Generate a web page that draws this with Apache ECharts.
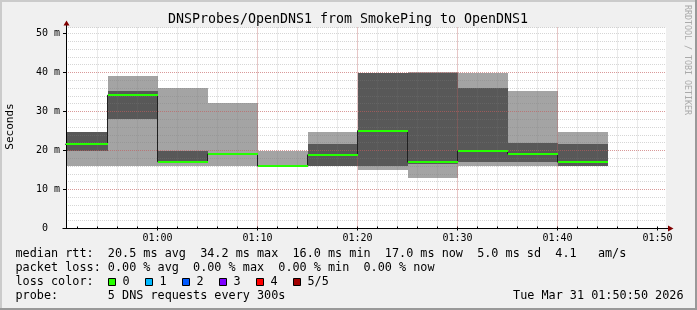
<!DOCTYPE html>
<html><head><meta charset="utf-8">
<script src="https://cdn.jsdelivr.net/npm/echarts@6/dist/echarts.min.js"></script>
<style>html,body{margin:0;padding:0;background:#f0f0f0;}#c{width:697px;height:310px;}</style>
</head><body><div id="c"></div>
<script>
// ---- data ----
const intervalEnds = ['00:55','01:00','01:05','01:10','01:15','01:20','01:25','01:30','01:35','01:40','01:45'];
const stepSeconds = 300;
const pingMin    = [16.1, 16.0, 16.1, 16.1, 15.9, 16.0, 15.1, 13.0, 16.1, 16.1, 16.0];
const ping2      = [19.8, 28.1, 16.9, 18.9, 16.0, 16.1, 16.1, 16.6, 17.1, 17.1, 16.1];
const pingMedian = [21.6, 34.2, 17.1, 19.1, 16.0, 18.9, 25.1, 17.0, 19.9, 19.1, 17.0];
const ping4      = [24.7, 35.2, 19.8, 19.3, 16.1, 21.6, 40.0, 40.0, 36.1, 21.9, 21.6];
const pingMax    = [24.8, 39.1, 36.1, 32.2, 19.8, 24.7, 40.0, 40.1, 40.0, 35.2, 24.7];
const xTickLabels = ['01:00','01:10','01:20','01:30','01:40','01:50'];
const yTickValues = [0, 10, 20, 30, 40, 50];
const axisStart = '00:50:51';
const axisEnd   = '01:50:51';
const yMax = 51.54;
const lossLabels = ['0','1','2','3','4','5/5'];
const lossColors = ['#26ff00','#00b8ff','#0059ff','#7e00ff','#ff0000','#a10000'];
const titleText = 'DNSProbes/OpenDNS1 from SmokePing to OpenDNS1';
const legendRows = [
  'median rtt:  20.5 ms avg  34.2 ms max  16.0 ms min  17.0 ms now  5.0 ms sd  4.1   am/s',
  'packet loss: 0.00 % avg  0.00 % max  0.00 % min  0.00 % now',
  'loss color:',
  'probe:       5 DNS requests every 300s'
];
const dateText = 'Tue Mar 31 01:50:50 2026';

// ---- helpers ----
const mono = 'DejaVu Sans Mono';
const toSec = s => { const p = s.split(':').map(Number); return p[0]*3600 + p[1]*60 + (p[2]||0); };
const fmt = v => { const h = Math.floor(v/3600), m = Math.round((v%3600)/60); return String(h).padStart(2,'0')+':'+String(m).padStart(2,'0'); };
const xMin = toSec(axisStart), xMax = toSec(axisEnd);
const majorX = xTickLabels.map(toSec);
const minorX = []; for (let t = Math.ceil(xMin/120)*120; t < xMax; t += 120) minorX.push(t);

const smokeData = intervalEnds.map((e,i)=>[toSec(e)-stepSeconds, toSec(e), pingMin[i], ping2[i], ping4[i], pingMax[i]]);
const medianSteps = intervalEnds.map((e,i)=>[toSec(e)-stepSeconds, pingMedian[i]]);
medianSteps.push([toSec(intervalEnds[intervalEnds.length-1]), pingMedian[pingMedian.length-1]]);
const medianSegs = intervalEnds.map((e,i)=>[toSec(e)-stepSeconds, toSec(e), pingMedian[i]]);

const gridRed = 'rgba(222,80,80,0.45)';
const gridGrey = 'rgba(128,128,128,0.32)';

function bandRect(a, b, cs){
  let x1 = Math.max(Math.round(a[0]), Math.round(cs.x));
  let x2 = Math.min(Math.round(b[0]), Math.round(cs.x + cs.width));
  let y1 = Math.round(a[1]), y2 = Math.round(b[1]);
  if (x2 <= x1 || y2 <= y1) return null;
  return {x:x1, y:y1, width:x2-x1, height:y2-y1};
}

const chart = echarts.init(document.getElementById('c'), null, {renderer:'canvas'});
const graphics = [
  {type:'rect', shape:{x:0,y:0,width:697,height:2}, style:{fill:'#cbcbcb'}, silent:true},
  {type:'rect', shape:{x:0,y:0,width:2,height:310}, style:{fill:'#cbcbcb'}, silent:true},
  {type:'rect', shape:{x:0,y:308,width:697,height:2}, style:{fill:'#999999'}, silent:true},
  {type:'rect', shape:{x:695,y:0,width:2,height:310}, style:{fill:'#999999'}, silent:true},
  {type:'text', x:348, y:19.5, style:{text:titleText, font:'13.3px "'+mono+'"', fill:'#000', align:'center', verticalAlign:'middle'}},
  {type:'text', x:10.5, y:126.5, rotation:Math.PI/2, style:{text:'Seconds', font:'11px "'+mono+'"', fill:'#000', align:'center', verticalAlign:'middle'}},
  {type:'text', x:687.5, y:60, rotation:-Math.PI/2, style:{text:'RRDTOOL / TOBI OETIKER', font:'8.3px "'+mono+'"', fill:'#aaaaaa', align:'center', verticalAlign:'middle'}},
  // axis extensions and arrows
  {type:'line', shape:{x1:62.5,y1:228.5,x2:66.5,y2:228.5}, style:{stroke:'#000',lineWidth:1}, z:50},
  {type:'line', shape:{x1:666,y1:228.5,x2:668.5,y2:228.5}, style:{stroke:'#000',lineWidth:1}, z:50},
  {type:'line', shape:{x1:66.5,y1:27.5,x2:66.5,y2:24.5}, style:{stroke:'#000',lineWidth:1}, z:50},
  {type:'polygon', shape:{points:[[668,225.5],[668,231.5],[673.5,228.5]]}, style:{fill:'#800000'}, z:50},
  {type:'polygon', shape:{points:[[63.5,25.5],[69.5,25.5],[66.5,20.5]]}, style:{fill:'#800000'}, z:50}
];
const rowY = [254.3, 267.7, 282.3, 295.7];
legendRows.forEach((t,i)=>graphics.push({type:'text', x:15.5, y:rowY[i], style:{text:t, font:'11.8px "'+mono+'"', fill:'#000', verticalAlign:'middle'}}));
lossLabels.forEach((l,i)=>{
  const bx = 108.5 + i*37;
  graphics.push({type:'rect', shape:{x:bx, y:278.5, width:7, height:7}, style:{fill:lossColors[i], stroke:'#000', lineWidth:1}});
  graphics.push({type:'text', x:bx+14, y:rowY[2], style:{text:l, font:'11.8px "'+mono+'"', fill:'#000', verticalAlign:'middle'}});
});
graphics.push({type:'text', x:683.5, y:rowY[3], style:{text:dateText, font:'11.8px "'+mono+'"', fill:'#000', align:'right', verticalAlign:'middle'}});

chart.setOption({
  animation:false,
  backgroundColor:'#f0f0f0',
  textStyle:{fontFamily:mono},
  grid:{left:66, top:27.5, width:600, height:201, show:true, backgroundColor:'#ffffff', borderWidth:0, containLabel:false},
  xAxis:[
    {type:'value', min:xMin, max:xMax, position:'bottom', z:1.6,
     axisLine:{show:true, onZero:false, lineStyle:{color:'#000', width:1}},
     axisTick:{show:true, length:2, customValues:majorX, lineStyle:{color:'#000'}},
     axisLabel:{show:true, customValues:majorX, formatter:fmt, margin:5, color:'#000', fontFamily:mono, fontSize:10},
     splitLine:{show:true, showMinLine:false, showMaxLine:false, lineStyle:{color:gridRed, type:[1,1], width:1}}},
    {type:'value', min:xMin, max:xMax, position:'bottom', z:1.5,
     axisLine:{show:false, onZero:false},
     axisTick:{show:true, inside:true, length:2, customValues:minorX, lineStyle:{color:'#000'}},
     axisLabel:{show:false},
     splitLine:{show:true, showMinLine:false, showMaxLine:false, lineStyle:{color:gridGrey, type:[1,1], width:1}}}
  ],
  yAxis:[
    {type:'value', min:0, max:yMax, interval:10, position:'left', z:1.6,
     axisLine:{show:true, onZero:false, lineStyle:{color:'#000', width:1}},
     axisTick:{show:true, length:3, customValues:yTickValues, lineStyle:{color:'#000'}},
     axisLabel:{margin:6, color:'#000', fontFamily:mono, fontSize:10, customValues:yTickValues,
       formatter:v => v===0 ? '0\u00a0\u00a0' : v+' m'},
     splitLine:{show:true, showMinLine:false, showMaxLine:false, lineStyle:{color:gridRed, type:[1,1], width:1}}},
    {type:'value', min:0, max:yMax, interval:2, position:'left', z:1.5,
     axisLine:{show:false, onZero:false}, axisTick:{show:false}, axisLabel:{show:false},
     splitLine:{show:true, showMinLine:false, lineStyle:{color:gridGrey, type:[1,1], width:1}}}
  ],
  series:[
    {type:'custom', z:1, xAxisIndex:0, yAxisIndex:0, silent:true,
     encode:{x:[0,1], y:[2,3,4,5]},
     data:smokeData,
     renderItem(params, api){
       const cs = params.coordSys;
       const s = api.value(0), e = api.value(1);
       const kids = [];
       const outer = bandRect(api.coord([s, api.value(5)]), api.coord([e, api.value(2)]), cs);
       if (outer) kids.push({type:'rect', shape:outer, style:{fill:'#a4a4a4'}});
       const inner = bandRect(api.coord([s, api.value(4)]), api.coord([e, api.value(3)]), cs);
       if (inner) kids.push({type:'rect', shape:inner, style:{fill:'#585858'}});
       return {type:'group', children:kids};
     }},
    {type:'line', z:3, xAxisIndex:0, yAxisIndex:0, step:'end', data:medianSteps, showSymbol:false, symbol:'none',
     lineStyle:{color:'#202020', width:1}, silent:true, clip:true},
    {type:'custom', z:4, xAxisIndex:0, yAxisIndex:0, silent:true,
     encode:{x:[0,1], y:2},
     data:medianSegs,
     renderItem(params, api){
       const cs = params.coordSys;
       const a = api.coord([api.value(0), api.value(2)]);
       const b = api.coord([api.value(1), api.value(2)]);
       const x1 = Math.max(Math.round(a[0]), Math.round(cs.x)), x2 = Math.min(Math.round(b[0]), Math.round(cs.x + cs.width));
       const y = Math.round(a[1]);
       return {type:'line', shape:{x1:x1, y1:y, x2:x2, y2:y}, style:{stroke:lossColors[0], lineWidth:2}};
     }}
  ],
  graphic:graphics
});
</script></body></html>
